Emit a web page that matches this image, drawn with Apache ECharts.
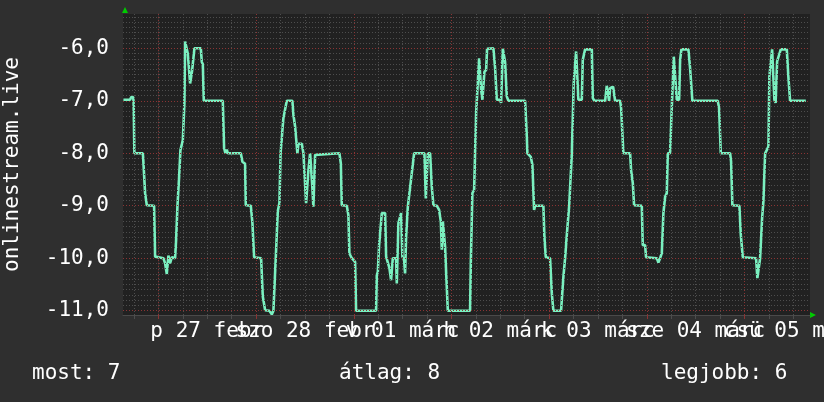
<!DOCTYPE html>
<html>
<head>
<meta charset="utf-8">
<script src="https://cdn.jsdelivr.net/npm/echarts@6/dist/echarts.min.js"></script>
<style>
html,body{margin:0;padding:0;background:#2f2f2f;}
#chart{width:824px;height:402px;}
</style>
</head>
<body>
<div id="chart"></div>
<script>
// Time axis: hours relative to 27 Feb 00:00
const xLabels = ['p 27 febr', 'szo 28 febr', 'v 01 márc', 'h 02 márc', 'k 03 márc', 'sze 04 márc', 'csü 05 márc'];
const xLabelHours = [12, 36, 60, 84, 108, 132, 156];
const yTicks = [-11, -10, -9, -8, -7, -6];
const seriesName = 'onlinestream.live';
const stats = ['most: 7', 'átlag: 8', 'legjobb: 6'];

// [hour, value]
const samples = [
[-8.6,-6.98],[-6.95,-6.98],[-6.7,-6.93],[-6.2,-6.93],[-6.1,-7.02],[-5.9,-8.0],[-3.83,-8.0],[-3.76,-8.07],[-3.44,-8.08],[-3.27,-8.76],[-2.85,-8.99],[-1.06,-9.0],[-0.81,-9.97],[1.23,-10.0],[1.65,-10.1],[2.06,-10.3],[2.46,-9.95],[2.87,-10.1],[3.29,-9.98],[4.1,-10.0],[4.35,-9.65],[4.67,-9.02],[5.09,-8.45],[5.41,-7.94],[6.0,-7.75],[6.39,-7.04],[6.56,-5.87],[7.05,-5.88],[7.22,-6.1],[7.54,-6.1],[7.79,-6.67],[8.03,-6.67],[8.28,-6.43],[8.6,-6.43],[8.85,-6.0],[10.42,-6.0],[10.66,-6.26],[10.91,-6.3],[11.15,-7.0],[15.82,-7.0],[16.14,-7.9],[16.46,-8.0],[16.81,-7.93],[17.05,-8.0],[20.25,-8.0],[20.64,-8.16],[21.3,-8.2],[21.47,-8.99],[22.7,-9.0],[23.1,-9.33],[23.51,-9.98],[25.23,-10.0],[25.65,-10.73],[26.22,-10.99],[27.27,-11.0],[27.86,-11.07],[28.26,-11.0],[29.34,-9.1],[29.73,-8.95],[30.02,-8.0],[30.71,-7.33],[31.13,-7.33],[31.55,-7.0],[32.92,-7.0],[33.17,-7.27],[33.59,-7.49],[34.0,-7.5],[34.15,-8.0],[34.4,-7.82],[35.23,-7.82],[35.63,-8.0],[36.04,-8.0],[36.29,-8.95],[36.61,-8.95],[36.86,-8.32],[37.27,-8.0],[37.52,-8.0],[37.76,-8.57],[38.08,-9.02],[38.33,-9.0],[38.5,-8.03],[38.92,-8.0],[44.47,-8.0],[44.82,-8.19],[45.06,-8.99],[46.29,-9.0],[46.68,-9.18],[46.93,-9.91],[47.52,-10.0],[48.33,-10.07],[48.57,-11.0],[53.49,-11.0],[53.66,-10.32],[53.91,-10.26],[54.23,-9.75],[54.47,-9.72],[54.89,-9.14],[55.7,-9.14],[55.95,-9.97],[56.27,-10.0],[56.76,-10.19],[57.17,-10.42],[57.59,-10.0],[58.4,-10.0],[58.57,-10.48],[58.82,-10.48],[58.97,-9.33],[59.39,-9.3],[59.63,-9.14],[59.95,-9.97],[60.37,-10.03],[60.61,-10.29],[60.86,-9.6],[61.28,-9.02],[61.67,-9.0],[62.01,-8.54],[62.41,-8.51],[62.83,-8.0],[65.36,-8.0],[65.7,-8.86],[65.95,-8.86],[66.19,-8.0],[66.76,-8.0],[67.17,-8.64],[67.57,-8.99],[68.4,-9.0],[68.97,-9.08],[69.39,-9.3],[69.63,-9.84],[69.88,-9.3],[70.2,-9.3],[70.44,-9.78],[70.69,-10.26],[71.11,-11.0],[76.58,-11.0],[76.76,-10.07],[77.15,-8.76],[77.57,-8.7],[77.81,-8.0],[78.06,-7.24],[78.48,-7.24],[78.8,-6.19],[79.04,-6.19],[79.29,-6.79],[79.61,-6.98],[79.85,-6.98],[80.1,-6.45],[80.52,-6.41],[80.76,-6.01],[82.31,-6.0],[82.73,-6.38],[83.14,-6.98],[83.96,-6.98],[84.2,-7.04],[84.62,-6.01],[84.94,-6.01],[85.18,-6.26],[85.43,-6.26],[85.6,-6.92],[86.0,-7.0],[90.1,-7.0],[90.52,-7.68],[90.66,-8.0],[91.15,-8.0],[91.5,-8.07],[91.89,-8.22],[92.31,-9.08],[92.56,-9.0],[94.59,-9.0],[94.84,-9.59],[95.18,-9.98],[96.24,-10.0],[96.66,-10.67],[97.05,-11.0],[98.94,-11.0],[99.51,-10.35],[99.93,-10.0],[100.34,-9.56],[100.91,-9.02],[101.4,-9.0],[101.57,-8.03],[101.97,-8.0],[102.04,-6.67],[102.38,-6.67],[102.63,-6.06],[102.95,-6.06],[103.19,-6.98],[104.03,-6.98],[104.27,-6.22],[104.59,-6.22],[104.84,-6.02],[106.49,-6.02],[106.73,-6.95],[107.13,-7.0],[109.76,-7.0],[110.17,-6.71],[110.42,-6.71],[110.74,-7.0],[110.98,-6.76],[111.72,-6.73],[112.21,-7.0],[113.44,-7.0],[113.69,-7.14],[114.25,-8.0],[115.9,-8.0],[116.14,-8.32],[116.56,-8.57],[116.88,-8.99],[118.77,-9.0],[119.01,-9.75],[119.58,-9.75],[119.82,-9.98],[122.46,-10.0],[122.85,-10.08],[123.27,-10.0],[123.69,-9.9],[124.08,-9.14],[124.5,-8.83],[124.91,-8.76],[125.16,-8.0],[125.72,-8.0],[125.97,-7.46],[126.39,-7.46],[126.63,-6.16],[126.95,-6.16],[127.37,-6.98],[127.94,-6.98],[128.19,-6.22],[128.5,-6.02],[130.22,-6.02],[130.64,-6.38],[130.88,-6.38],[131.2,-7.0],[137.44,-7.0],[137.76,-7.14],[138.18,-8.0],[140.47,-8.0],[140.71,-8.16],[141.03,-8.99],[142.75,-9.0],[143.1,-9.56],[143.59,-9.98],[146.85,-10.0],[147.17,-10.38],[147.59,-10.38],[147.84,-10.0],[148.08,-10.0],[148.33,-9.24],[148.65,-8.92],[149.07,-8.0],[149.48,-7.94],[149.88,-7.87],[150.12,-6.54],[150.47,-6.54],[150.79,-6.02],[151.11,-6.02],[151.35,-6.98],[151.65,-7.04],[152.02,-6.25],[152.43,-6.25],[152.92,-6.02],[154.4,-6.02],[154.79,-6.55],[155.21,-7.0],[159.07,-7.0]
];

const X_MIN = -8.7, X_MAX = 160.1;
const Y_MIN = -11.082, Y_MAX = -5.346;
const FONT = 'DejaVu Sans Mono';

// grid lines (RRD style): minor every 6 h / 0.1, major every 24 h / 1.0
const minorX = [], majorX = [];
for (let h = -6; h <= 156; h += 6) { (h % 24 === 0 ? majorX : minorX).push(h); }
const minorY = [], majorY = [];
for (let i = -110; i <= -54; i++) { (i % 10 === 0 ? majorY : minorY).push(i / 10); }

const GRAY = '#4d4d4d', RED = '#8a3434';
const grayLine = { color: GRAY, width: 1, type: [1, 2] };
const redLine = { color: RED, width: 1, type: [1, 2] };

const gridMarks = []
  .concat(minorX.map(v => ({ xAxis: v, lineStyle: grayLine })))
  .concat(minorY.map(v => ({ yAxis: v, lineStyle: grayLine })))
  .concat(majorX.map(v => ({ xAxis: v, lineStyle: redLine })))
  .concat(majorY.map(v => ({ yAxis: v, lineStyle: redLine })));

// labels split over two stacked axes so that ECharts keeps overlapping ones
const labelsA = xLabelHours.filter((h, i) => i % 2 === 0);
const labelsB = xLabelHours.filter((h, i) => i % 2 === 1);
const fmtX = v => xLabels[xLabelHours.indexOf(Math.round(v))] || '';

function xAxisDef(labelValues, tickValues, tickColor, showLine) {
  return {
    type: 'value', min: X_MIN, max: X_MAX, position: 'bottom', offset: 0,
    axisLine: { show: showLine, lineStyle: { color: '#4a4a4a', width: 1 } },
    axisTick: { show: true, customValues: tickValues, length: 4, lineStyle: { color: tickColor, width: 1 } },
    splitLine: { show: false },
    axisLabel: {
      customValues: labelValues,
      color: '#ffffff', fontFamily: FONT, fontSize: 21, margin: 6,
      formatter: fmtX
    }
  };
}

const chart = echarts.init(document.getElementById('chart'), null, { renderer: 'canvas' });
chart.setOption({
  animation: false,
  backgroundColor: '#2f2f2f',
  grid: {
    left: 123, right: 14, top: 14, bottom: 87,
    containLabel: false, outerBoundsMode: 'none',
    show: true, backgroundColor: '#212121', borderWidth: 0
  },
  xAxis: [
    xAxisDef(labelsA, majorX, RED, true),
    xAxisDef(labelsB, minorX, GRAY, false)
  ],
  yAxis: {
    type: 'value', min: Y_MIN, max: Y_MAX,
    name: seriesName, nameLocation: 'middle', nameRotate: 90, nameGap: 100,
    nameTextStyle: { color: '#ffffff', fontFamily: FONT, fontSize: 21 },
    axisLine: { show: true, lineStyle: { color: '#4a4a4a', width: 1, type: [1, 2] } },
    axisTick: { show: false },
    splitLine: { show: false },
    axisLabel: {
      customValues: yTicks,
      color: '#ffffff', fontFamily: FONT, fontSize: 21, margin: 14,
      formatter: v => v.toFixed(1).replace('.', ',')
    }
  },
  series: [
    {
      type: 'line', name: 'grid', z: 1, silent: true,
      data: [[X_MIN, Y_MIN]], symbol: 'none', lineStyle: { opacity: 0 },
      markLine: { silent: true, symbol: ['none', 'none'], label: { show: false }, data: gridMarks, animation: false }
    },
    {
      type: 'line', name: seriesName, z: 3,
      data: samples, symbol: 'none',
      lineStyle: { color: '#7af0c0', width: 2.6 },
      clip: true
    }
  ],
  graphic: [
    { type: 'polygon', shape: { points: [[122, 13], [128, 13], [125, 7]] }, style: { fill: '#00cc00' } },
    { type: 'polygon', shape: { points: [[810, 312], [810, 318], [816, 315]] }, style: { fill: '#00cc00' } },
    { type: 'text', x: 32, y: 374, style: { text: stats[0], fill: '#ffffff', font: '21px "DejaVu Sans Mono"', verticalAlign: 'middle' } },
    { type: 'text', x: 339, y: 374, style: { text: stats[1], fill: '#ffffff', font: '21px "DejaVu Sans Mono"', verticalAlign: 'middle' } },
    { type: 'text', x: 661, y: 374, style: { text: stats[2], fill: '#ffffff', font: '21px "DejaVu Sans Mono"', verticalAlign: 'middle' } }
  ]
});
</script>
</body>
</html>
